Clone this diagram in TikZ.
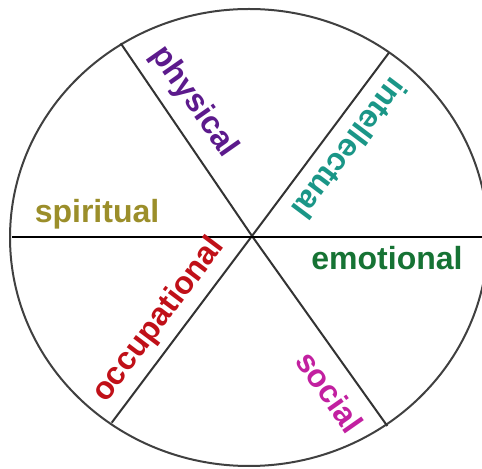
\documentclass[tikz,border=0pt]{standalone}
\usepackage{fontspec}
\setmainfont{Liberation Sans}
\definecolor{PhysicalColor}{RGB}{92,26,140}
\definecolor{IntellectColor}{RGB}{26,150,135}
\definecolor{SpiritColor}{RGB}{155,142,42}
\definecolor{EmotionColor}{RGB}{22,115,52}
\definecolor{WorkColor}{RGB}{192,16,24}
\definecolor{SocialColor}{RGB}{194,32,160}
\usepackage{tikz}
\usetikzlibrary{positioning}

\begin{document}
\begin{tikzpicture}[x=0.75pt, y=0.75pt,
    wheel/.style={draw=black!75, line width=1.5pt},
    spoke/.style={draw=black!80, line width=1.5pt},
    axis/.style={draw=black, line width=2.2pt},
    tag/.style={font=\fontsize{24}{24}\selectfont\bfseries, inner sep=0pt}]
    \clip (0,0) rectangle (482,468);
    % Points on the rim
    \coordinate (hub) at (252,232);
    \coordinate (nw) at (120.7,424.7);
    \coordinate (se) at (387.3,42);
    \coordinate (ne) at (389,415.3);
    \coordinate (sw) at (111.7,45.3);
    \coordinate (west) at (12,231);
    \coordinate (east) at (482,231);
    % Rim
    \draw[wheel] (249,230.5) ellipse [x radius=239, y radius=228.5];
    % Spokes
    \draw[spoke] (nw) -- (hub) -- (se);
    \draw[spoke] (ne) -- (hub) -- (sw);
    \draw[axis] (west) -- (east);
    % Labels
    \node[tag, PhysicalColor, rotate=-55] (physical) at (194,366) {physical};
    \node[tag, IntellectColor, rotate=233] (intellectual) at (350,319) {intellectual};
    \node[tag, SpiritColor] (spiritual) at (97,254) {spiritual};
    \node[tag, EmotionColor] (emotional) at (387,210) {emotional};
    \node[tag, WorkColor, rotate=53] (occupational) at (159,148) {occupational};
    \node[tag, SocialColor, rotate=-55] (social) at (330,76) {social};
\end{tikzpicture}
\end{document}
